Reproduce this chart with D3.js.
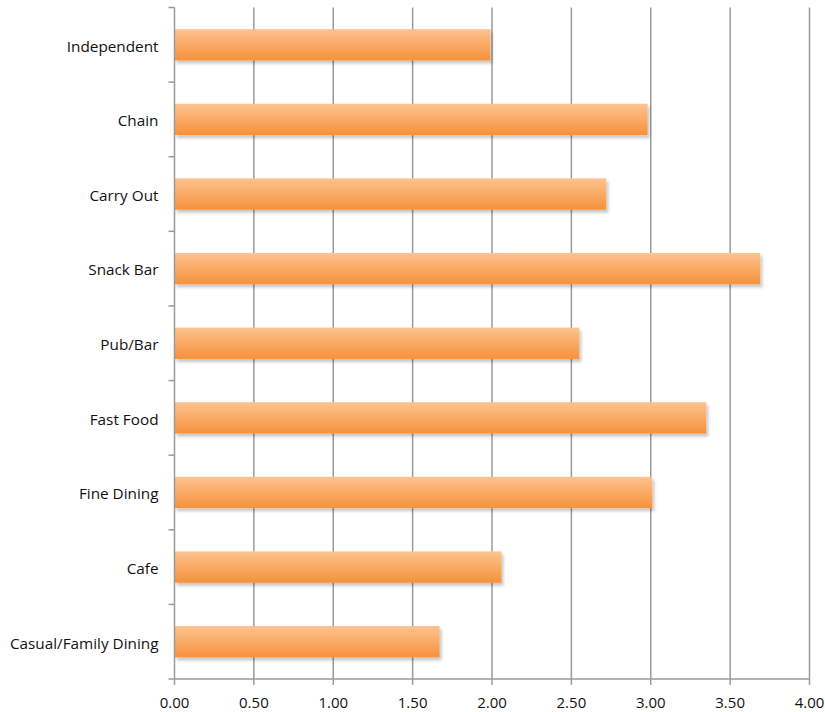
<!DOCTYPE html>
<html>
<head>
<meta charset="utf-8">
<script src="https://cdn.jsdelivr.net/npm/d3@7"></script>
<style>
  body { margin: 0; background: #fff; }
  text { font-family: "Open Sans", "Noto Sans", sans-serif; fill: #111; }
</style>
</head>
<body>
<svg width="825" height="712"></svg>
<script>
var categories = ["Independent", "Chain", "Carry Out", "Snack Bar", "Pub/Bar",
                  "Fast Food", "Fine Dining", "Cafe", "Casual/Family Dining"];
var values = [1.99, 2.98, 2.72, 3.69, 2.55, 3.35, 3.01, 2.06, 1.67];
var xTicks = [0, 0.5, 1, 1.5, 2, 2.5, 3, 3.5, 4];

var plotLeft = 174.5, plotRight = 809.5, plotTop = 7.5, plotBottom = 679;

var svg = d3.select("svg");

var defs = svg.append("defs");
var grad = defs.append("linearGradient")
    .attr("id", "barGrad")
    .attr("x1", 0).attr("y1", 0).attr("x2", 0).attr("y2", 1);
grad.append("stop").attr("offset", "0%").attr("stop-color", "#fdc390");
grad.append("stop").attr("offset", "100%").attr("stop-color", "#f6913a");

var shadow = defs.append("filter").attr("id", "shadow")
    .attr("x", "-5%").attr("y", "-20%").attr("width", "110%").attr("height", "160%");
shadow.append("feDropShadow")
    .attr("dx", 2).attr("dy", 3).attr("stdDeviation", 1.5)
    .attr("flood-color", "#000").attr("flood-opacity", 0.22);

var x = d3.scaleLinear().domain([0, 4]).range([plotLeft, plotRight]);
var y = d3.scaleBand().domain(categories).range([plotTop, plotBottom]).paddingInner(0.58).paddingOuter(0.29);
var yBand = d3.scaleBand().domain(categories).range([plotTop, plotBottom]);

// gridlines
svg.append("g").selectAll("line")
    .data(xTicks.slice(1))
    .enter().append("line")
    .attr("x1", function(d) { return x(d); })
    .attr("x2", function(d) { return x(d); })
    .attr("y1", plotTop).attr("y2", plotBottom)
    .style("stroke", "#9a9a9a").style("stroke-width", 1.5);

// bars
svg.append("g").selectAll("rect")
    .data(values)
    .enter().append("rect")
    .attr("x", x(0))
    .attr("y", function(d, i) { return y(categories[i]); })
    .attr("width", function(d) { return x(d) - x(0); })
    .attr("height", y.bandwidth())
    .style("fill", "url(#barGrad)")
    .attr("filter", "url(#shadow)");

// left axis
var yAxis = svg.append("g");
yAxis.append("line")
    .attr("x1", plotLeft).attr("x2", plotLeft).attr("y1", plotTop).attr("y2", plotBottom)
    .style("stroke", "#9a9a9a").style("stroke-width", 1.5);
var yEdges = categories.map(function(c) { return yBand(c); }).concat([plotBottom]);
yAxis.selectAll(".tk").data(yEdges).enter().append("line")
    .attr("x1", plotLeft - 6).attr("x2", plotLeft)
    .attr("y1", function(d) { return d; }).attr("y2", function(d) { return d; })
    .style("stroke", "#9a9a9a").style("stroke-width", 1.5);
yAxis.selectAll("text").data(categories).enter().append("text")
    .attr("x", plotLeft - 16)
    .attr("y", function(d) { return yBand(d) + yBand.bandwidth() / 2 + 1.5; })
    .attr("dy", "0.35em")
    .attr("text-anchor", "end")
    .style("font-size", "15.3px")
    .text(function(d) { return d; });

// bottom axis
var xAxis = svg.append("g");
xAxis.append("line")
    .attr("x1", plotLeft).attr("x2", plotRight).attr("y1", plotBottom).attr("y2", plotBottom)
    .style("stroke", "#9a9a9a").style("stroke-width", 1.5);
xAxis.selectAll(".tk").data(xTicks).enter().append("line")
    .attr("x1", function(d) { return x(d); }).attr("x2", function(d) { return x(d); })
    .attr("y1", plotBottom).attr("y2", plotBottom + 6)
    .style("stroke", "#9a9a9a").style("stroke-width", 1.5);
xAxis.selectAll("text").data(xTicks).enter().append("text")
    .attr("x", function(d) { return x(d); })
    .attr("y", 703)
    .attr("dy", "0.35em")
    .attr("text-anchor", "middle")
    .style("font-size", "15px")
    .text(function(d) { return d3.format(".2f")(d); });
</script>
</body>
</html>
